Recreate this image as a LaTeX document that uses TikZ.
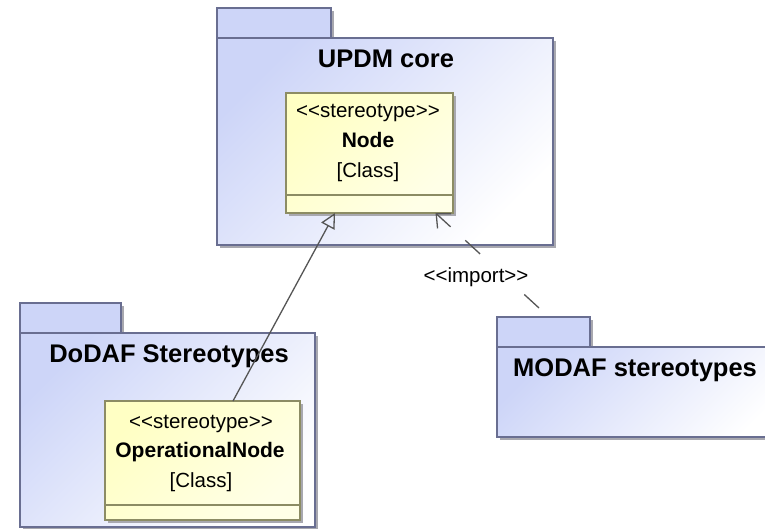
\documentclass[tikz,border=0pt]{standalone}
\usepackage{fontspec}
\setmainfont{Liberation Sans}
\usetikzlibrary{arrows.meta,shadows}
\definecolor{pkgfill}{RGB}{205,213,248}
\definecolor{pkgline}{RGB}{105,110,145}
\definecolor{shadowc}{RGB}{168,168,175}
\definecolor{clsfill}{RGB}{255,255,196}
\definecolor{clsline}{RGB}{140,140,100}
\definecolor{conn}{RGB}{85,85,85}
\newcommand{\stl}{<\kern0pt<stereotype>\kern0pt>}
\newcommand{\imp}{<\kern0pt<import>\kern0pt>}
\begin{document}
\begin{tikzpicture}[x=1pt,y=-1pt,
  shad/.style={drop shadow={shadow xshift=3pt,shadow yshift=-3pt,fill=shadowc,opacity=1}},
  pkgtab/.style={shad,draw=pkgline,line width=1.3pt,fill=pkgfill,anchor=north west,inner sep=0pt,outer sep=0pt},
  pkgbody/.style={shad,draw=pkgline,line width=1.3pt,left color=pkgfill,right color=white,shading angle=45,anchor=north west,inner sep=0pt,outer sep=0pt},
  clsbox/.style={shad,draw=clsline,line width=1.3pt,left color=clsfill,right color=white!60!clsfill,shading angle=45,anchor=north west,inner sep=0pt,outer sep=0pt},
  title/.style={anchor=base,inner sep=0pt,font=\fontsize{25.5}{30}\selectfont\bfseries},
  small/.style={anchor=base,inner sep=0pt,font=\fontsize{20.5}{24}\selectfont},
  smallb/.style={anchor=base,inner sep=0pt,font=\fontsize{21}{24}\selectfont\bfseries},
  conline/.style={draw=conn,line width=1.3pt}]
\useasboundingbox (0,0) rectangle (765,529);
\clip (0,0) rectangle (765,529);
\fill[white] (0,0) rectangle (765,529);
% UPDM core
\node[pkgtab,minimum width=114pt,minimum height=30pt] (updmtab) at (217,8) {};
\node[pkgbody,minimum width=336pt,minimum height=207pt] (updm) at (217,38) {};
\node[title] (updmt) at (386,68) {UPDM core};
\node[clsbox,minimum width=167pt,minimum height=120pt] (nodecls) at (286,93) {};
\draw[draw=clsline,line width=1.3pt] ([yshift=18pt]nodecls.south west) -- ([yshift=18pt]nodecls.south east);
\node[small] (n1) at (368,118) {\stl};
\node[smallb] (n2) at (368,148) {Node};
\node[small] (n3) at (368,178) {[Class]};
% DoDAF
\node[pkgtab,minimum width=101pt,minimum height=30pt] (dodtab) at (20,303) {};
\node[pkgbody,minimum width=295pt,minimum height=194pt] (dod) at (20,333) {};
\node[title] (dodt) at (169,362) {DoDAF Stereotypes};
\node[clsbox,minimum width=195pt,minimum height=119pt] (opcls) at (105,401) {};
\draw[draw=clsline,line width=1.3pt] ([yshift=15pt]opcls.south west) -- ([yshift=15pt]opcls.south east);
\node[small] (o1) at (201,428) {\stl};
\node[smallb] (o2) at (200,457) {OperationalNode};
\node[small] (o3) at (201,487) {[Class]};
% MODAF
\node[pkgtab,minimum width=93pt,minimum height=30pt] (modtab) at (497,317) {};
\node[pkgbody,minimum width=300pt,minimum height=90pt] (mod) at (497,347) {};
\node[title,anchor=base west] (modt) at (513,376) {MODAF stereotypes};
% generalization
\draw[conline,-{Triangle[open,length=15pt,width=15pt,line width=1.3pt]}] ([xshift=30.5pt]opcls.north) -- ([xshift=-34.5pt]nodecls.south);
% import
\coordinate (impstart) at (539,308);
\draw[conline,dash pattern=on 20pt off 20pt,-{Straight Barb[length=11pt,width=20pt,line width=1.3pt]}] (impstart) -- ([xshift=66pt]nodecls.south);
\node[small,fill=white,inner sep=1pt,anchor=center] (implbl) at (476,277) {\imp};
\end{tikzpicture}
\end{document}
